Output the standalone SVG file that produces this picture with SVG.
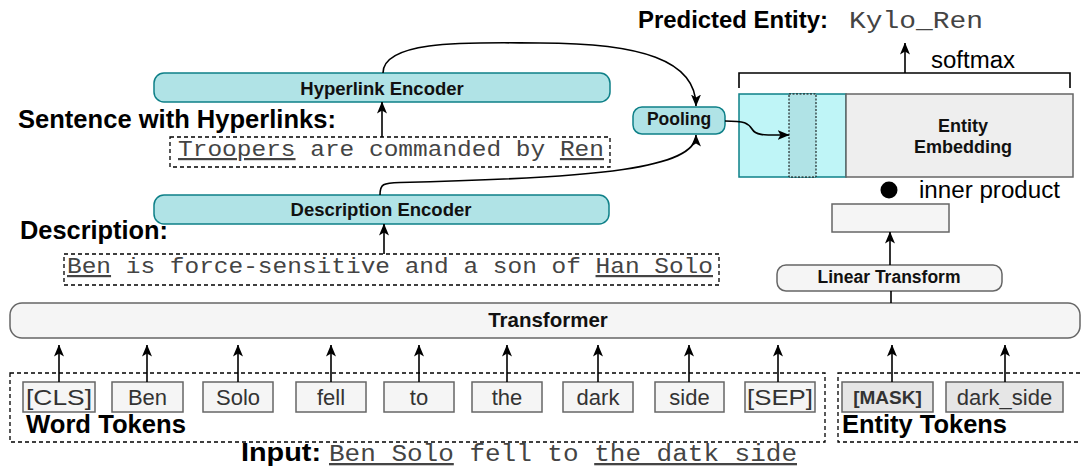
<svg xmlns="http://www.w3.org/2000/svg" width="1081" height="470" viewBox="0 0 1081 470">
<defs>
<marker id="arr" markerUnits="userSpaceOnUse" viewBox="0 0 12 10" refX="11.5" refY="5" markerWidth="12" markerHeight="10" orient="auto">
<path d="M0,0 L12,5 L0,10 L3,5 z" fill="#000"/>
</marker>
<style>
.lbl{font-family:"Liberation Sans",Arial,sans-serif;font-weight:bold;fill:#000}
.box{font-family:"Liberation Sans",Arial,sans-serif;font-weight:bold;fill:#111;text-anchor:middle}
.mono{font-family:"Liberation Mono","Courier New",monospace;fill:#444}
.tok{font-family:"Liberation Sans",Arial,sans-serif;font-size:22px;fill:#333;text-anchor:middle}
.reg{font-family:"Liberation Sans",Arial,sans-serif;fill:#000}
.teal{fill:#b0e3e6;stroke:#0e8088;stroke-width:1.5}
.gray{fill:#f5f5f5;stroke:#666;stroke-width:1.5}
.tbox{fill:#f5f5f5;stroke:#666;stroke-width:1.5}
.ebox{fill:#e6e6e6;stroke:#666;stroke-width:1.5}
.dash{fill:none;stroke:#000;stroke-width:1.3;stroke-dasharray:4 3}
.conn{fill:none;stroke:#000;stroke-width:1.6}
.u{text-decoration:underline}
</style>
</defs>

<g id="predicted">
<text class="lbl" x="638" y="28" font-size="23" textLength="190" lengthAdjust="spacingAndGlyphs">Predicted Entity:</text>
<text class="mono" x="849" y="28" font-size="23" textLength="134" lengthAdjust="spacingAndGlyphs">Kylo_Ren</text>
</g>

<g id="softmax">
<path d="M739,88 V73 H1070 V88" fill="none" stroke="#000" stroke-width="1.6"/>
<text class="reg" x="931" y="68" font-size="23" textLength="84" lengthAdjust="spacingAndGlyphs">softmax</text>
</g>

<g id="hyperlink-encoder">
<rect class="teal" x="154" y="73" width="456" height="29" rx="10"/>
<text class="box" x="382" y="95" font-size="18.5">Hyperlink Encoder</text>
</g>

<g id="sentence-label">
<text class="lbl" x="18" y="128" font-size="25" textLength="318" lengthAdjust="spacingAndGlyphs">Sentence with Hyperlinks:</text>
</g>

<g id="sentence">
<rect class="dash" x="170" y="137" width="440" height="30"/>
<text class="mono" x="178" y="156" font-size="22" textLength="426" lengthAdjust="spacingAndGlyphs"><tspan class="u">Troopers</tspan> are commanded by <tspan class="u">Ren</tspan></text>
</g>

<g id="pooling">
<rect class="teal" x="633" y="107" width="92" height="27" rx="9"/>
<text class="box" x="679" y="125" font-size="17.5">Pooling</text>
</g>

<g id="entity-embedding">
<rect x="739" y="94" width="107" height="83" fill="#bff5f7" stroke="#0e8088" stroke-width="1.5"/>
<rect x="789" y="94" width="27" height="83" fill="#b0e3e6" stroke="#000" stroke-width="1" stroke-dasharray="2 1.5"/>
<rect x="846" y="94" width="227" height="83" fill="#eeeeee" stroke="#666" stroke-width="1.5"/>
<text class="box" x="963" y="132" font-size="18">Entity</text>
<text class="box" x="963" y="153" font-size="18">Embedding</text>
</g>

<g id="inner-product">
<circle cx="889" cy="190" r="8.5" fill="#000"/>
<text class="reg" x="919" y="198" font-size="23" textLength="141" lengthAdjust="spacingAndGlyphs">inner product</text>
</g>

<g id="projected">
<rect class="gray" x="832" y="204" width="117" height="28"/>
</g>

<g id="description-encoder">
<rect class="teal" x="154" y="195" width="455" height="29" rx="10"/>
<text class="box" x="381" y="216" font-size="18.5">Description Encoder</text>
</g>

<g id="description-label">
<text class="lbl" x="20" y="239" font-size="25" textLength="148" lengthAdjust="spacingAndGlyphs">Description:</text>
</g>

<g id="description">
<rect class="dash" x="64" y="254" width="655" height="31"/>
<text class="mono" x="67" y="273" font-size="22" textLength="646" lengthAdjust="spacingAndGlyphs"><tspan class="u">Ben</tspan> is force-sensitive and a son of <tspan class="u">Han Solo</tspan></text>
</g>

<g id="linear-transform">
<rect class="gray" x="777" y="265" width="225" height="26" rx="9"/>
<text class="box" x="889" y="283" font-size="17.5">Linear Transform</text>
</g>

<g id="transformer">
<rect class="gray" x="10" y="303" width="1070" height="35" rx="12"/>
<text class="box" x="548" y="327" font-size="20.5">Transformer</text>
</g>

<g id="word-tokens">
<rect class="dash" x="10" y="373" width="815" height="69"/>
<rect class="tbox" x="23" y="382" width="72" height="30"/>
<text class="tok" x="59" y="405" textLength="66" lengthAdjust="spacingAndGlyphs">[CLS]</text>
<rect class="tbox" x="112" y="382" width="71" height="30"/>
<text class="tok" x="147.5" y="405">Ben</text>
<rect class="tbox" x="203" y="382" width="70" height="30"/>
<text class="tok" x="238" y="405">Solo</text>
<rect class="tbox" x="296" y="382" width="70" height="30"/>
<text class="tok" x="331" y="405">fell</text>
<rect class="tbox" x="384" y="382" width="70" height="30"/>
<text class="tok" x="419" y="405">to</text>
<rect class="tbox" x="472" y="382" width="70" height="30"/>
<text class="tok" x="507" y="405">the</text>
<rect class="tbox" x="563" y="382" width="70" height="30"/>
<text class="tok" x="598" y="405">dark</text>
<rect class="tbox" x="655" y="382" width="69" height="30"/>
<text class="tok" x="689.5" y="405">side</text>
<rect class="tbox" x="745" y="382" width="70" height="30"/>
<text class="tok" x="780" y="405" textLength="66" lengthAdjust="spacingAndGlyphs">[SEP]</text>
<text class="lbl" x="26" y="433" font-size="25" textLength="160" lengthAdjust="spacingAndGlyphs">Word Tokens</text>
</g>

<g id="entity-tokens">
<rect class="dash" x="838" y="373" width="250" height="69"/>
<rect class="ebox" x="842" y="382" width="91" height="30"/>
<text class="box" x="887.5" y="404" font-size="19" style="fill:#333">[MASK]</text>
<rect class="ebox" x="946" y="382" width="117" height="30"/>
<text class="tok" x="1004.5" y="405">dark_side</text>
<text class="lbl" x="842" y="433" font-size="25" textLength="165" lengthAdjust="spacingAndGlyphs">Entity Tokens</text>
</g>

<g id="input">
<text class="lbl" x="241" y="461" font-size="25" textLength="80" lengthAdjust="spacingAndGlyphs">Input:</text>
<text class="mono" x="329" y="461" font-size="23" textLength="468" lengthAdjust="spacingAndGlyphs"><tspan class="u">Ben Solo</tspan> fell to <tspan class="u">the datk side</tspan></text>
</g>

<g id="connectors">
<path class="conn" d="M905,73 V43" marker-end="url(#arr)"/>
<path class="conn" d="M383,73 C383,38 480,43 540,43 C640,43 696,60 696,106" marker-end="url(#arr)"/>
<path class="conn" d="M380,195 C380,184 383,183 400,182.5 C600,178 696,168 696,135" marker-end="url(#arr)"/>
<path class="conn" d="M725,121 C745,121 748,123 752,129 C756,136 765,135 789,135" marker-end="url(#arr)"/>
<path class="conn" d="M382,137 V102" marker-end="url(#arr)"/>
<path class="conn" d="M384,254 V224" marker-end="url(#arr)"/>
<path class="conn" d="M890,265 V232" marker-end="url(#arr)"/>
<path class="conn" d="M891,303 V291"/>
<path class="conn" d="M59,382 V345" marker-end="url(#arr)"/>
<path class="conn" d="M147,382 V345" marker-end="url(#arr)"/>
<path class="conn" d="M238,382 V345" marker-end="url(#arr)"/>
<path class="conn" d="M331,382 V345" marker-end="url(#arr)"/>
<path class="conn" d="M419,382 V345" marker-end="url(#arr)"/>
<path class="conn" d="M507,382 V345" marker-end="url(#arr)"/>
<path class="conn" d="M598,382 V345" marker-end="url(#arr)"/>
<path class="conn" d="M689,382 V345" marker-end="url(#arr)"/>
<path class="conn" d="M778,382 V345" marker-end="url(#arr)"/>
<path class="conn" d="M892,382 V345" marker-end="url(#arr)"/>
<path class="conn" d="M1005,382 V345" marker-end="url(#arr)"/>
</g>
</svg>
